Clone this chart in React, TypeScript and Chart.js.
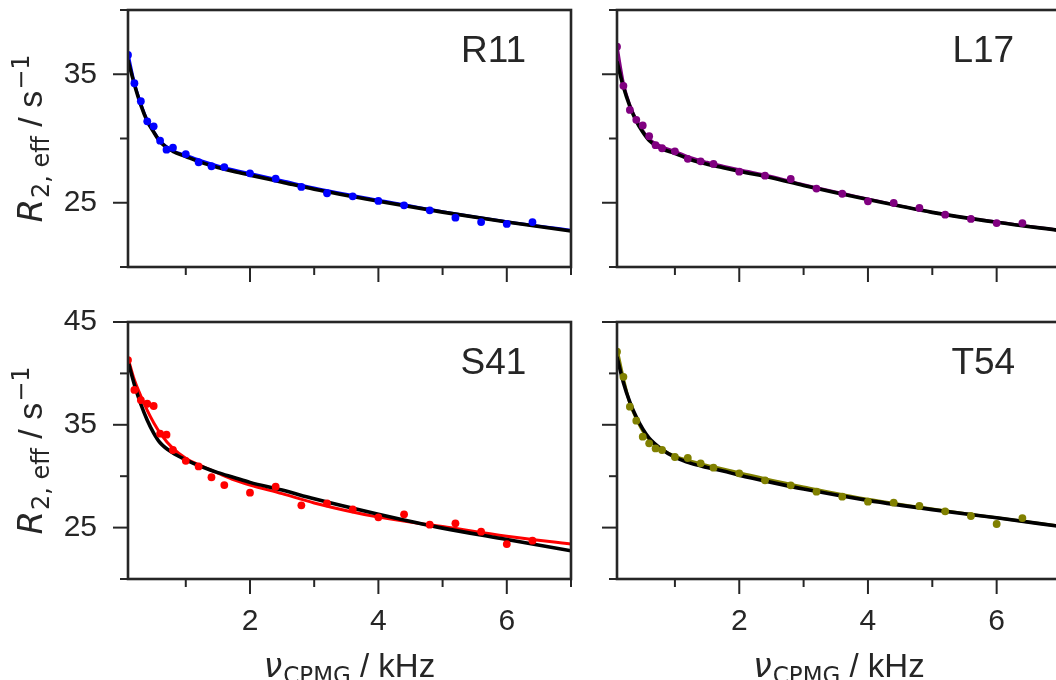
import React, { useEffect, useRef } from 'react';
import { Chart, registerables } from 'chart.js';

Chart.register(...registerables);

// ---------- data ----------
const X_POINTS = [0.1, 0.2, 0.3, 0.4, 0.5, 0.6, 0.7, 0.8, 1.0, 1.2, 1.4, 1.6, 2.0, 2.4, 2.8, 3.2, 3.6, 4.0, 4.4, 4.8, 5.2, 5.6, 6.0, 6.4];

const R11_R2EFF = [36.5, 34.3, 32.9, 31.34, 30.95, 29.83, 29.13, 29.28, 28.79, 28.15, 27.84, 27.78, 27.29, 26.87, 26.23, 25.74, 25.5, 25.14, 24.8, 24.41, 23.84, 23.5, 23.35, 23.5];
const L17_R2EFF = [37.14, 34.1, 32.22, 31.45, 31.02, 30.18, 29.48, 29.24, 29.0, 28.42, 28.22, 28.02, 27.42, 27.11, 26.85, 26.1, 25.7, 25.11, 24.98, 24.59, 24.07, 23.74, 23.42, 23.42];
const S41_R2EFF = [41.3, 38.39, 37.41, 37.05, 36.83, 34.14, 34.04, 32.55, 31.5, 30.95, 29.9, 29.14, 28.4, 28.98, 27.17, 27.36, 26.78, 26.0, 26.29, 25.28, 25.42, 24.6, 23.4, 23.73];
const T54_R2EFF = [42.11, 39.67, 36.76, 35.4, 33.84, 33.2, 32.7, 32.55, 31.87, 31.77, 31.25, 30.83, 30.28, 29.6, 29.11, 28.49, 28.01, 27.52, 27.42, 27.1, 26.58, 26.13, 25.35, 25.93];

const CURVE_X = [0.1, 0.2, 0.3, 0.4, 0.5, 0.6, 0.8, 1.0, 1.25, 1.5, 1.75, 2.0, 2.5, 3.0, 4.0, 5.0, 6.0, 7.0];

const R11_GLOBAL_FIT = [36.1, 34.2, 32.6, 31.35, 30.5, 29.75, 29.0, 28.6, 28.12, 27.75, 27.43, 27.15, 26.6, 26.05, 25.12, 24.27, 23.5, 22.8];
const R11_LOCAL_FIT = [36.6, 34.3, 32.7, 31.4, 30.55, 29.8, 29.05, 28.7, 28.25, 27.87, 27.55, 27.28, 26.72, 26.15, 25.2, 24.3, 23.52, 22.85];
const L17_GLOBAL_FIT = [36.0, 34.0, 32.5, 31.35, 30.5, 29.85, 29.2, 28.85, 28.35, 28.0, 27.72, 27.45, 26.95, 26.35, 25.25, 24.25, 23.48, 22.83];
const L17_LOCAL_FIT = [37.2, 34.3, 32.6, 31.45, 30.62, 29.95, 29.35, 29.0, 28.5, 28.15, 27.85, 27.57, 27.05, 26.4, 25.3, 24.25, 23.5, 22.85];
const S41_GLOBAL_FIT = [41.2, 38.9, 37.0, 35.45, 34.2, 33.25, 32.25, 31.6, 30.92, 30.35, 29.88, 29.4, 28.65, 27.8, 26.3, 24.95, 23.85, 22.75];
const S41_LOCAL_FIT = [41.5, 39.35, 37.8, 36.4, 35.2, 34.2, 32.7, 31.75, 30.97, 30.3, 29.65, 29.15, 28.3, 27.4, 26.02, 25.1, 24.15, 23.4];
const T54_GLOBAL_FIT = [41.6, 39.1, 37.2, 35.75, 34.6, 33.7, 32.6, 31.85, 31.25, 30.85, 30.5, 30.1, 29.4, 28.75, 27.65, 26.75, 25.95, 25.1];
const T54_LOCAL_FIT = [42.4, 39.5, 37.1, 35.6, 34.4, 33.55, 32.6, 31.95, 31.45, 31.05, 30.7, 30.35, 29.6, 28.95, 27.75, 26.8, 25.95, 25.12];

const RESIDUES = ['R11', 'L17', 'S41', 'T54'];
const COLORS = ['#0000ff', '#800080', '#ff0000', '#808000'];

const X_MAJOR_TICKS = [2, 4, 6];
const X_MINOR_TICKS = [1, 3, 5, 7];
const TOP_Y_MAJOR = [25, 35];
const TOP_Y_MINOR = [20, 30, 40];
const BOTTOM_Y_MAJOR = [25, 35, 45];
const BOTTOM_Y_MINOR = [20, 30, 40];

// ---------- styling ----------
const INK = '#262626';
const SANS = '"Liberation Sans", Arial, Helvetica, sans-serif';
const MATH = '"DejaVu Sans", "Liberation Sans", sans-serif';
const PAD_TOP = 60;

type Seg = { text: string; font: string; dy?: number; dx?: number };

function drawRich(ctx: CanvasRenderingContext2D, segs: Seg[], x: number, y: number, rotate: boolean) {
  ctx.save();
  ctx.translate(x, y);
  if (rotate) ctx.rotate(-Math.PI / 2);
  ctx.textBaseline = 'alphabetic';
  ctx.textAlign = 'left';
  ctx.fillStyle = INK;
  const widths = segs.map((s) => {
    ctx.font = s.font;
    return ctx.measureText(s.text).width + (s.dx || 0);
  });
  const total = widths.reduce((a, b) => a + b, 0);
  let cur = -total / 2;
  segs.forEach((s, i) => {
    ctx.font = s.font;
    ctx.fillText(s.text, cur + (s.dx || 0), s.dy || 0);
    cur += widths[i];
  });
  ctx.restore();
}

const Y_TITLE: Seg[] = [
  { text: 'R', font: `italic 34px ${MATH}` },
  { text: '2, eff', font: `24px ${MATH}`, dy: 7, dx: 1 },
  { text: ' / s', font: `34px ${SANS}` },
  { text: '\u22121', font: `24px ${MATH}`, dy: -13, dx: 1 },
];
const X_TITLE: Seg[] = [
  { text: '\u03BD', font: `italic 33px ${MATH}` },
  { text: 'CPMG', font: `23px ${MATH}`, dy: 6, dx: 1 },
  { text: ' / kHz', font: `33px ${SANS}` },
];

type PanelCfg = {
  idx: number;
  left: number;
  top: number;
  w: number;
  h: number;
  padRight: number;
  yAxisW: number;
  xAxisH: number;
  yMax: number;
  yMajor: number[];
  yMinor: number[];
  showYLabels: boolean;
  showXLabels: boolean;
  points: number[];
  globalFit: number[];
  localFit: number[];
};

function makeFramePlugin(cfg: PanelCfg) {
  return {
    id: 'frame' + cfg.idx,
    afterDraw(chart: any) {
      const { ctx, chartArea: a, scales } = chart;
      const xs = scales.x;
      const ys = scales.y;
      ctx.save();
      ctx.strokeStyle = INK;
      ctx.lineWidth = 2;
      ctx.lineCap = 'butt';
      const yTick = (v: number, len: number) => {
        const p = ys.getPixelForValue(v);
        ctx.beginPath();
        ctx.moveTo(a.left, p);
        ctx.lineTo(a.left - len, p);
        ctx.stroke();
      };
      const xTick = (v: number, len: number) => {
        const p = xs.getPixelForValue(v);
        ctx.beginPath();
        ctx.moveTo(p, a.bottom);
        ctx.lineTo(p, a.bottom + len);
        ctx.stroke();
      };
      cfg.yMajor.forEach((v) => yTick(v, 15));
      cfg.yMinor.forEach((v) => yTick(v, 8));
      X_MAJOR_TICKS.forEach((v) => xTick(v, 15));
      X_MINOR_TICKS.forEach((v) => xTick(v, 8));

      ctx.lineWidth = 2.6;
      ctx.strokeRect(a.left, a.top, a.right - a.left, a.bottom - a.top);

      // residue label
      ctx.fillStyle = INK;
      ctx.font = `37px ${SANS}`;
      ctx.textAlign = 'center';
      ctx.textBaseline = 'alphabetic';
      ctx.fillText(RESIDUES[cfg.idx], a.left + 0.825 * (a.right - a.left), a.top + 52);

      if (cfg.showYLabels) {
        drawRich(ctx, Y_TITLE, a.left - 86, (a.top + a.bottom) / 2, true);
      }
      if (cfg.showXLabels) {
        drawRich(ctx, X_TITLE, (a.left + a.right) / 2, a.bottom + 98, false);
      }
      ctx.restore();
    },
  };
}

function Panel({ cfg }: { cfg: PanelCfg }) {
  const ref = useRef<HTMLCanvasElement | null>(null);
  useEffect(() => {
    if (!ref.current) return;
    const color = COLORS[cfg.idx];
    const pts = X_POINTS.map((x, i) => ({ x, y: cfg.points[i] }));
    const gfit = CURVE_X.map((x, i) => ({ x, y: cfg.globalFit[i] }));
    const lfit = CURVE_X.map((x, i) => ({ x, y: cfg.localFit[i] }));
    const tickFont = { family: SANS, size: 30, lineHeight: 1.2 };
    const chart = new Chart(ref.current, {
      type: 'scatter',
      data: {
        datasets: [
          {
            data: pts,
            showLine: false,
            pointRadius: 3.9,
            pointBackgroundColor: color,
            pointBorderColor: color,
            pointBorderWidth: 0,
            clip: 0,
            order: 0,
          } as any,
          {
            data: gfit,
            showLine: true,
            borderColor: '#000000',
            borderWidth: 3.6,
            pointRadius: 0,
            cubicInterpolationMode: 'monotone',
            clip: 0,
            order: 1,
          } as any,
          {
            data: lfit,
            showLine: true,
            borderColor: color,
            borderWidth: 3,
            pointRadius: 0,
            cubicInterpolationMode: 'monotone',
            clip: 0,
            order: 2,
          } as any,
        ],
      },
      options: {
        animation: false,
        responsive: false,
        devicePixelRatio: 1,
        events: [],
        layout: { padding: { left: 0, right: cfg.padRight, top: PAD_TOP, bottom: 0 } },
        plugins: { legend: { display: false }, tooltip: { enabled: false } },
        scales: {
          x: {
            type: 'linear',
            min: 0.1,
            max: 7,
            afterBuildTicks: (s: any) => {
              s.ticks = X_MAJOR_TICKS.map((v) => ({ value: v }));
            },
            afterFit: (s: any) => {
              s.height = cfg.xAxisH;
            },
            ticks: {
              display: cfg.showXLabels,
              autoSkip: false,
              maxRotation: 0,
              padding: 25,
              color: INK,
              font: tickFont,
              callback: (v: any) => String(v),
            },
            grid: { display: false, drawTicks: false },
            border: { display: false },
          },
          y: {
            type: 'linear',
            min: 20,
            max: cfg.yMax,
            afterBuildTicks: (s: any) => {
              s.ticks = cfg.yMajor.map((v) => ({ value: v }));
            },
            afterFit: (s: any) => {
              s.width = cfg.yAxisW;
            },
            ticks: {
              display: cfg.showYLabels,
              padding: 31,
              color: INK,
              font: tickFont,
              callback: (v: any) => String(v),
            },
            grid: { display: false, drawTicks: false },
            border: { display: false },
          },
        },
      } as any,
      plugins: [makeFramePlugin(cfg)],
    });
    return () => chart.destroy();
  }, []);
  return (
    <canvas
      ref={ref}
      width={cfg.w}
      height={cfg.h}
      style={{ position: 'absolute', left: cfg.left, top: cfg.top, width: cfg.w, height: cfg.h }}
    />
  );
}

// chart areas: top row y 10..267, bottom row y 322..579; left col x 128..571, right col x 617..1061
const TOP_CANVAS_TOP = 10 - PAD_TOP;
const BOTTOM_CANVAS_TOP = 322 - PAD_TOP;

const PANELS: PanelCfg[] = [
  {
    idx: 0, left: 0, top: TOP_CANVAS_TOP, w: 600, h: PAD_TOP + 257 + 53, padRight: 29, yAxisW: 128, xAxisH: 53,
    yMax: 40, yMajor: TOP_Y_MAJOR, yMinor: TOP_Y_MINOR, showYLabels: true, showXLabels: false,
    points: R11_R2EFF, globalFit: R11_GLOBAL_FIT, localFit: R11_LOCAL_FIT,
  },
  {
    idx: 1, left: 520, top: TOP_CANVAS_TOP, w: 560, h: PAD_TOP + 257 + 53, padRight: 19, yAxisW: 97, xAxisH: 53,
    yMax: 40, yMajor: TOP_Y_MAJOR, yMinor: TOP_Y_MINOR, showYLabels: false, showXLabels: false,
    points: L17_R2EFF, globalFit: L17_GLOBAL_FIT, localFit: L17_LOCAL_FIT,
  },
  {
    idx: 2, left: 0, top: BOTTOM_CANVAS_TOP, w: 600, h: PAD_TOP + 257 + 101, padRight: 29, yAxisW: 128, xAxisH: 101,
    yMax: 45, yMajor: BOTTOM_Y_MAJOR, yMinor: BOTTOM_Y_MINOR, showYLabels: true, showXLabels: true,
    points: S41_R2EFF, globalFit: S41_GLOBAL_FIT, localFit: S41_LOCAL_FIT,
  },
  {
    idx: 3, left: 520, top: BOTTOM_CANVAS_TOP, w: 560, h: PAD_TOP + 257 + 101, padRight: 19, yAxisW: 97, xAxisH: 101,
    yMax: 45, yMajor: BOTTOM_Y_MAJOR, yMinor: BOTTOM_Y_MINOR, showYLabels: false, showXLabels: true,
    points: T54_R2EFF, globalFit: T54_GLOBAL_FIT, localFit: T54_LOCAL_FIT,
  },
];

export default function App() {
  return (
    <div
      style={{
        position: 'fixed',
        left: 0,
        top: 0,
        width: 1056,
        height: 680,
        overflow: 'hidden',
        background: '#ffffff',
      }}
    >
      {PANELS.map((p) => (
        <Panel key={p.idx} cfg={p} />
      ))}
    </div>
  );
}
